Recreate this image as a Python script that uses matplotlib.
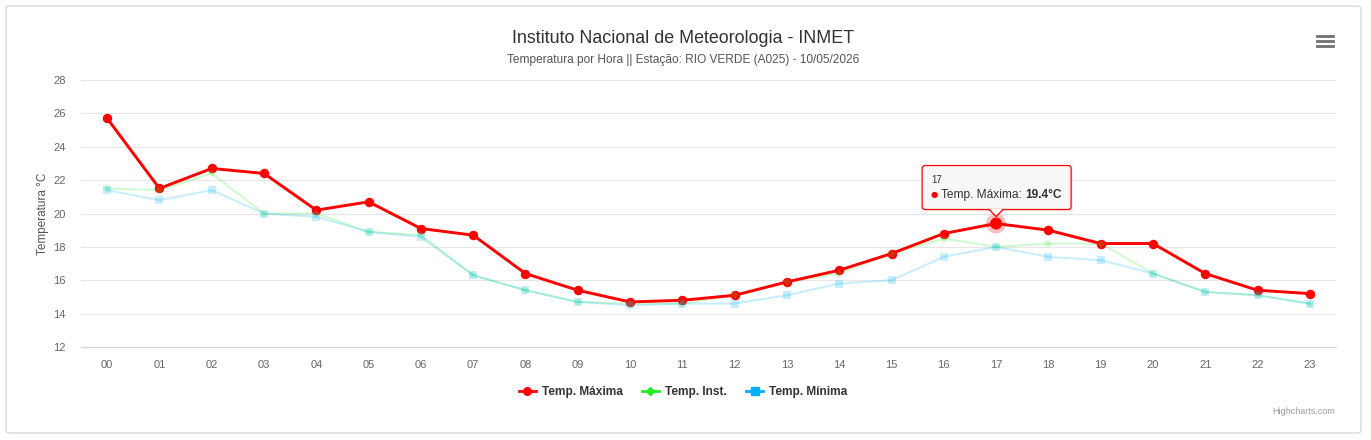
import matplotlib.pyplot as plt
from matplotlib.patches import FancyBboxPatch, Polygon, Circle
from matplotlib.lines import Line2D
from matplotlib.transforms import IdentityTransform

plt.rcParams['font.family'] = ['Liberation Sans', 'DejaVu Sans']

hours = ['00', '01', '02', '03', '04', '05', '06', '07', '08', '09', '10', '11',
         '12', '13', '14', '15', '16', '17', '18', '19', '20', '21', '22', '23']
temp_max = [25.7, 21.5, 22.7, 22.4, 20.2, 20.7, 19.1, 18.7, 16.4, 15.4, 14.7, 14.8,
            15.1, 15.9, 16.6, 17.6, 18.8, 19.4, 19.0, 18.2, 18.2, 16.4, 15.4, 15.2]
temp_inst = [21.5, 21.4, 22.4, 20.0, 20.0, 18.9, 18.7, 16.3, 15.4, 14.7, 14.6, 14.6,
             15.1, 15.9, 16.4, 17.6, 18.5, 18.0, 18.2, 18.2, 16.4, 15.3, 15.1, 14.6]
temp_min = [21.4, 20.8, 21.4, 20.0, 19.8, 18.9, 18.6, 16.3, 15.4, 14.7, 14.5, 14.6,
            14.6, 15.1, 15.8, 16.0, 17.4, 18.0, 17.4, 17.2, 16.4, 15.3, 15.1, 14.6]
hover_idx = 17

RED = '#ff0000'
GREEN = '#22ee22'
BLUE = '#00b0ff'
W, H = 1371, 440

fig = plt.figure(figsize=(W / 100, H / 100), dpi=100)
fig.patch.set_facecolor('white')
ax = fig.add_axes([81 / W, 1 - 347 / H, (1336 - 81) / W, (347 - 80) / H])

x = list(range(len(hours)))

# dimmed (inactive) series: lines below, markers above red
ax.plot(x, temp_inst, color=GREEN, lw=1.45, alpha=0.22, zorder=2)
ax.plot(x, temp_min, color=BLUE, lw=1.45, alpha=0.22, zorder=2)
ax.plot(x, temp_max, color=RED, lw=2.1, marker='o', ms=5.8, zorder=3,
        solid_joinstyle='round')
ax.plot(x, temp_inst, ls='none', marker='D', ms=4.5, color=GREEN, alpha=0.22, mew=0, zorder=4)
ax.plot(x, temp_min, ls='none', marker='s', ms=6, color=BLUE, alpha=0.22, mew=0, zorder=4)

ax.set_xlim(-0.5, len(hours) - 0.5)
ax.set_ylim(12, 28)
ax.set_yticks(range(12, 29, 2))
ax.set_xticks(x)
ax.set_xticklabels(hours)
ax.grid(axis='y', color='#e6e6e6', lw=0.8)
ax.set_axisbelow(True)
for s in ['top', 'right', 'left']:
    ax.spines[s].set_visible(False)
ax.spines['bottom'].set_color('#ccd6eb')
ax.spines['bottom'].set_linewidth(0.8)
ax.tick_params(axis='both', length=0, labelsize=8, labelcolor='#666666')
ax.tick_params(axis='x', pad=9)
ax.tick_params(axis='y', pad=11)
ax.set_ylabel('Temperatura °C', fontsize=8.5, color='#555555', labelpad=3)

fig.text(683 / W, 1 - 38 / H, 'Instituto Nacional de Meteorologia - INMET',
         ha='center', va='center', fontsize=12.9, color='#333333')
fig.text(683 / W, 1 - 60 / H,
         'Temperatura por Hora || Estação: RIO VERDE (A025) - 10/05/2026',
         ha='center', va='center', fontsize=8.6, color='#555555')
fig.text(1335 / W, 1 - 411 / H, 'Highcharts.com', ha='right', va='center',
         fontsize=6.5, color='#999999')

# outer border
fig.add_artist(FancyBboxPatch((6 / W, 1 - 433 / H), 1355 / W, 427 / H,
                              boxstyle='round,pad=0,rounding_size=0.004',
                              transform=fig.transFigure, fc='none',
                              ec='#d5d5d5', lw=0.9))

# context menu icon
for yy in (36, 41, 46):
    fig.add_artist(Line2D([1317 / W, 1333 / W], [1 - yy / H, 1 - yy / H],
                          color='#707070', lw=2.0, transform=fig.transFigure))

# legend
handles = [
    Line2D([], [], color=RED, lw=2, marker='o', ms=5.5),
    Line2D([], [], color=GREEN, lw=2, marker='D', ms=4.5),
    Line2D([], [], color=BLUE, lw=2, marker='s', ms=5.5),
]
leg = fig.legend(handles, ['Temp. Máxima', 'Temp. Inst.', 'Temp. Mínima'],
                 loc='center', bbox_to_anchor=(683 / W, 1 - 392 / H), ncol=3,
                 frameon=False, handlelength=1.4, handletextpad=0.5,
                 columnspacing=1.65,
                 prop={'weight': 'bold', 'size': 8.6})
for t in leg.get_texts():
    t.set_color('#333333')

# hover tooltip on the highlighted point
fig.canvas.draw()
renderer = fig.canvas.get_renderer()
px, py = ax.transData.transform((hover_idx, temp_max[hover_idx]))
ident = IdentityTransform()
fig.add_artist(Circle((px, py), 10, transform=ident, fc=RED, alpha=0.25, ec='none', zorder=5))
fig.add_artist(Circle((px, py), 6, transform=ident, fc=RED, ec='none', zorder=6))

bl, br, bt, bb = px - 74, px + 75, py + 58, py + 14
shadow = FancyBboxPatch((bl + 1.5, bb - 1.5), br - bl, bt - bb,
                        boxstyle='round,pad=0,rounding_size=3', transform=ident,
                        fc='#000000', alpha=0.08, ec='none', zorder=7)
box = FancyBboxPatch((bl, bb), br - bl, bt - bb,
                     boxstyle='round,pad=0,rounding_size=3', transform=ident,
                     fc='#f7f7f7', ec=RED, lw=0.9, zorder=8)
fig.add_artist(shadow)
fig.add_artist(box)
tri = Polygon([(px - 7, bb + 0.6), (px, bb - 7), (px + 7, bb + 0.6)], closed=True,
              transform=ident, fc='#f7f7f7', ec='none', zorder=9)
fig.add_artist(tri)
fig.add_artist(Line2D([px - 7, px, px + 7], [bb, bb - 7, bb], color=RED, lw=0.9,
                      transform=ident, zorder=9))

fig.text(bl + 9, bt - 14, hours[hover_idx], transform=ident, fontsize=7,
         color='#333333', va='center', zorder=10)
ty = bt - 29
fig.text(bl + 8, ty, '●', transform=ident, fontsize=6, color=RED, va='center',
         family='DejaVu Sans', zorder=10)
t1 = fig.text(bl + 19, ty, 'Temp. Máxima: ', transform=ident, fontsize=8.6,
              color='#333333', va='center', zorder=10)
ext = t1.get_window_extent(renderer)
fig.text(ext.x1, ty, f'{temp_max[hover_idx]}°C', transform=ident, fontsize=8.6,
         color='#333333', weight='bold', va='center', zorder=10)

fig.savefig('out.png', dpi=100)
